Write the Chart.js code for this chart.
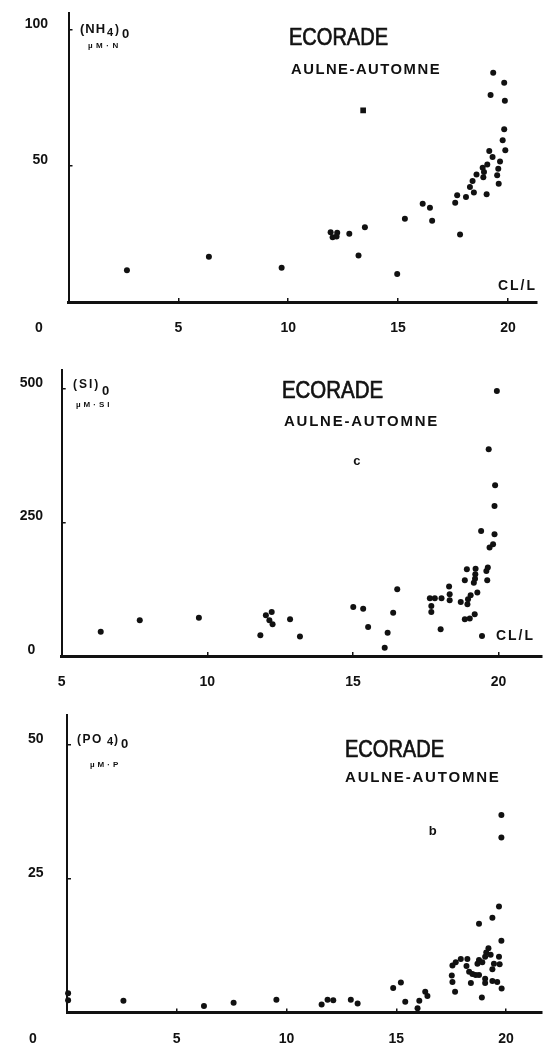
<!DOCTYPE html>
<html>
<head>
<meta charset="utf-8">
<script src="https://cdn.jsdelivr.net/npm/chart.js@4.4.0/dist/chart.umd.min.js"></script>
<style>
  html, body { margin: 0; background: #fff; width: 546px; height: 1046px; overflow: hidden; }
  canvas { position: absolute; left: 0; }
</style>
</head>
<body>
<canvas id="nh4" width="546" height="345" style="top:0px"></canvas>
<canvas id="si" width="546" height="355" style="top:340px"></canvas>
<canvas id="po4" width="546" height="351" style="top:695px"></canvas>
<script>
// (NH4)0 vs CL/L
const nh4Chlorinity = [2.66, 6.39, 9.7, 11.93, 12.23, 12.02, 12.2, 12.78, 13.49, 13.2, 14.96, 15.31, 16.12, 16.45, 16.55, 17.6, 17.69, 17.82, 18.09, 18.39, 18.27, 18.45, 18.57, 19.15, 18.85, 18.91, 18.88, 19.06, 19.03, 19.3, 19.21, 19.33, 19.64, 19.56, 19.51, 19.58, 19.76, 19.83, 19.88, 19.86, 19.83];
const nh4Values = [11.7, 16.6, 12.6, 25.7, 25.5, 23.8, 24.1, 25.1, 27.5, 17.1, 10.3, 30.6, 36.1, 34.7, 29.9, 36.5, 39.3, 24.8, 38.6, 44.5, 42.3, 40.3, 46.9, 55.5, 49.4, 47.8, 45.9, 50.6, 39.6, 53.3, 76.1, 84.3, 51.7, 49.0, 46.6, 43.5, 59.5, 63.5, 55.8, 74.0, 80.6];
const nh4PanelMark = [13.41, 70.5];
const nh4XTicks = [5, 10, 15, 20];
const nh4YTicks = [50, 100];

// (SI)0 vs CL/L
const siChlorinity = [6.34, 7.68, 9.71, 11.82, 12.01, 12.21, 12.13, 12.24, 12.84, 13.18, 15.01, 15.35, 15.52, 16.19, 16.38, 16.52, 16.09, 17.64, 17.81, 18.04, 17.69, 17.69, 18.01, 18.3, 18.32, 18.32, 18.7, 18.91, 18.84, 18.84, 19.01, 19.18, 18.95, 19.04, 19.27, 18.93, 19.21, 19.2, 19.19, 19.15, 19.4, 19.43, 19.61, 19.58, 19.63, 19.69, 19.81, 19.86, 19.86, 19.88, 19.66, 19.94];
const siValues = [45.6, 66.8, 71.8, 38.7, 76.2, 82.4, 66.8, 59.3, 68.7, 36.4, 91.7, 88.7, 54.4, 43.7, 81.2, 124.9, 15.6, 108, 108, 108, 93.7, 82.4, 50, 130, 115.6, 104.3, 101.2, 162.4, 141.8, 68.7, 70, 78.1, 106.2, 113.7, 118.7, 96.9, 163.6, 153, 144.9, 137.4, 234.2, 37.5, 141.8, 159.2, 165.6, 203.1, 209.2, 227.9, 281, 319.7, 387, 496.3];
const siPanelLetter = [15.13, 363.9];
const siXTicks = [5, 10, 15, 20];
const siYTicks = [0, 250, 500];

// (PO4)0 vs CL/L
const po4Chlorinity = [0.05, 0.05, 2.57, 6.24, 7.59, 9.54, 11.6, 11.87, 12.13, 12.93, 13.24, 19.79, 19.79, 19.68, 19.38, 18.77, 19.79, 19.2, 19.1, 19.05, 19.3, 19.68, 18.24, 18.2, 17.94, 17.71, 17.56, 18.77, 18.7, 18.92, 19.45, 19.38, 19.71, 18.32, 18.47, 18.62, 18.77, 19.05, 19.05, 19.38, 19.6, 17.53, 17.56, 18.4, 19.8, 17.68, 18.9, 14.86, 15.21, 15.41, 15.97, 16.05, 16.32, 16.42];
const po4Values = [3.6, 2.3, 2.2, 1.2, 1.8, 2.4, 1.5, 2.4, 2.3, 2.4, 1.7, 36.9, 32.7, 19.8, 17.7, 16.6, 13.4, 12.0, 11.2, 10.4, 10.8, 10.4, 10.0, 8.7, 10.0, 9.4, 8.8, 9.8, 9.1, 9.4, 9.1, 8.1, 9.0, 7.6, 7.2, 7.0, 7.0, 6.3, 5.5, 5.9, 5.7, 6.9, 5.7, 5.5, 4.5, 3.9, 2.8, 4.6, 5.6, 2.0, 0.8, 2.2, 3.9, 3.1];
const po4PanelLetter = [16.66, 33.8];
const po4XTicks = [5, 10, 15, 20];
const po4YTicks = [25, 50];

const ink = "#111";
const family = "'Liberation Sans', Arial, sans-serif";

// draws the hand lettering (titles, units, axis names)
const textPlugin = {
    id: "panelText",
    afterDraw(chart, args, opts) {
        const ctx = chart.ctx;
        ctx.save();
        ctx.fillStyle = ink;
        ctx.strokeStyle = ink;
        opts.items.forEach(t => {
            ctx.font = t.font;
            ctx.letterSpacing = (t.spacing || 0) + "px";
            ctx.textAlign = t.align || "left";
            ctx.textBaseline = t.baseline || "alphabetic";
            let x = t.x, y = t.y - opts.top;
            if (t.data) {
                x = chart.scales.x.getPixelForValue(t.x);
                y = chart.scales.y.getPixelForValue(t.y);
            }
            const w = t.maxWidth || undefined;
            ctx.fillText(t.text, x, y, w);
            if (t.stroke) {
                ctx.lineWidth = t.stroke;
                ctx.strokeText(t.text, x, y, w);
            }
        });
        ctx.restore();
    }
};

// keep the plot box where the original has it
function noPad(s) {
    s.paddingTop = 0;
    s.paddingBottom = 0;
    s.paddingLeft = 0;
    s.paddingRight = 0;
}

function makePanel(id, cfg) {
    const datasets = [{
        data: cfg.xs.map((x, i) => ({ x, y: cfg.ys[i] })),
        pointRadius: 3,
        pointBackgroundColor: ink,
        pointBorderWidth: 0,
        clip: false
    }];
    if (cfg.mark) {
        datasets.push({
            data: [{ x: cfg.mark[0], y: cfg.mark[1] }],
            pointStyle: "rect",
            pointRadius: 4,
            pointBackgroundColor: ink,
            pointBorderWidth: 0
        });
    }
    new Chart(document.getElementById(id), {
        type: "scatter",
        data: { datasets },
        options: {
            responsive: false,
            animation: false,
            layout: { padding: { left: 0, top: cfg.padTop, right: cfg.padRight, bottom: 0 } },
            plugins: {
                legend: { display: false },
                tooltip: { enabled: false },
                panelText: { top: cfg.canvasTop, items: cfg.text }
            },
            scales: {
                x: {
                    type: "linear",
                    min: cfg.xMin, max: cfg.xMax,
                    afterFit: s => { s.height = cfg.xHeight; noPad(s); },
                    afterBuildTicks: s => { s.ticks = cfg.xTicks.map(v => ({ value: v })); },
                    grid: { drawOnChartArea: false, tickLength: -4, color: ink, lineWidth: 1.5 },
                    border: { color: ink, width: 3 },
                    ticks: {
                        color: ink, padding: cfg.xPad, maxRotation: 0, autoSkip: false,
                        font: { family, size: 14, weight: "bold" }
                    }
                },
                y: {
                    type: "linear",
                    min: 0, max: cfg.yMax,
                    afterFit: s => { s.width = cfg.left; noPad(s); },
                    afterBuildTicks: s => { s.ticks = cfg.yTicks.map(v => ({ value: v })); },
                    grid: { drawOnChartArea: false, tickLength: -4, color: ink, lineWidth: 1.5 },
                    border: { color: ink, width: 2 },
                    ticks: {
                        color: ink, padding: cfg.yPad, autoSkip: false,
                        font: { family, size: 14, weight: "bold", lineHeight: 0.86 },
                        callback: v => [v === 0 ? "0  " : String(v), ""]
                    }
                }
            }
        },
        plugins: [textPlugin]
    });
}

const titleFont = "23px " + family;
const subFont = "bold 15px " + family;

makePanel("nh4", {
    xs: nh4Chlorinity, ys: nh4Values, mark: nh4PanelMark,
    xTicks: nh4XTicks, yTicks: nh4YTicks,
    xMin: 0, xMax: 21.3, yMax: 106.3,
    left: 68.5, padTop: 13, padRight: 9.5, xHeight: 43,
    xPad: 22, yPad: 24.5, canvasTop: 0,
    text: [
        { text: "(NH", x: 80, y: 33, font: "bold 13px " + family, spacing: 1 },
        { text: "4", x: 107, y: 36, font: "bold 11px " + family },
        { text: ")", x: 115, y: 33, font: "bold 12px " + family },
        { text: "0", x: 122, y: 38, font: "bold 13px " + family },
        { text: "µM·N", x: 88, y: 48, font: "bold 8px " + family, spacing: 3.5 },
        { text: "ECORADE", x: 289, y: 45, font: titleFont, maxWidth: 99, stroke: 0.7 },
        { text: "AULNE-AUTOMNE", x: 291, y: 74, font: subFont, spacing: 1.5, maxWidth: 150 },
        { text: "CL/L", x: 498, y: 290, font: "bold 14px " + family, spacing: 2, maxWidth: 39 },
        { text: "0", x: 39, y: 328, font: "bold 14px " + family, align: "center", baseline: "middle" }
    ]
});

makePanel("si", {
    xs: siChlorinity, ys: siValues,
    xTicks: siXTicks, yTicks: siYTicks,
    xMin: 5, xMax: 21.49, yMax: 535.6,
    left: 61.7, padTop: 30, padRight: 1, xHeight: 39,
    xPad: 21.3, yPad: 22.7, canvasTop: 340,
    text: [
        { text: "(SI)", x: 73, y: 388, font: "bold 12px " + family, spacing: 2 },
        { text: "0", x: 102, y: 395, font: "bold 13px " + family },
        { text: "µM·SI", x: 76, y: 407, font: "bold 8px " + family, spacing: 3 },
        { text: "ECORADE", x: 282, y: 398, font: titleFont, maxWidth: 101, stroke: 0.7 },
        { text: "AULNE-AUTOMNE", x: 284, y: 425.5, font: subFont, spacing: 1.8, maxWidth: 155 },
        { text: "CL/L", x: 496, y: 640, font: "bold 14px " + family, spacing: 2, maxWidth: 39 },
        { text: "c", x: siPanelLetter[0], y: siPanelLetter[1], data: true, font: "bold 13px " + family, align: "center", baseline: "middle" }
    ]
});

makePanel("po4", {
    xs: po4Chlorinity, ys: po4Values,
    xTicks: po4XTicks, yTicks: po4YTicks,
    xMin: 0, xMax: 21.64, yMax: 55.6,
    left: 67, padTop: 20, padRight: 3, xHeight: 33.5,
    xPad: 22.4, yPad: 27.5, canvasTop: 695,
    text: [
        { text: "(PO", x: 77, y: 743, font: "bold 12px " + family, spacing: 1.5 },
        { text: "4", x: 107, y: 745, font: "bold 11px " + family },
        { text: ")", x: 114, y: 743, font: "bold 12px " + family },
        { text: "0", x: 121, y: 748, font: "bold 13px " + family },
        { text: "µM·P", x: 90, y: 767, font: "bold 8px " + family, spacing: 3 },
        { text: "ECORADE", x: 345, y: 757, font: titleFont, maxWidth: 99, stroke: 0.7 },
        { text: "AULNE-AUTOMNE", x: 345, y: 782, font: subFont, spacing: 1.8, maxWidth: 157 },
        { text: "b", x: po4PanelLetter[0], y: po4PanelLetter[1], data: true, font: "bold 13px " + family, align: "center", baseline: "middle" },
        { text: "0", x: 33, y: 1039, font: "bold 14px " + family, align: "center", baseline: "middle" }
    ]
});
</script>
</body>
</html>
